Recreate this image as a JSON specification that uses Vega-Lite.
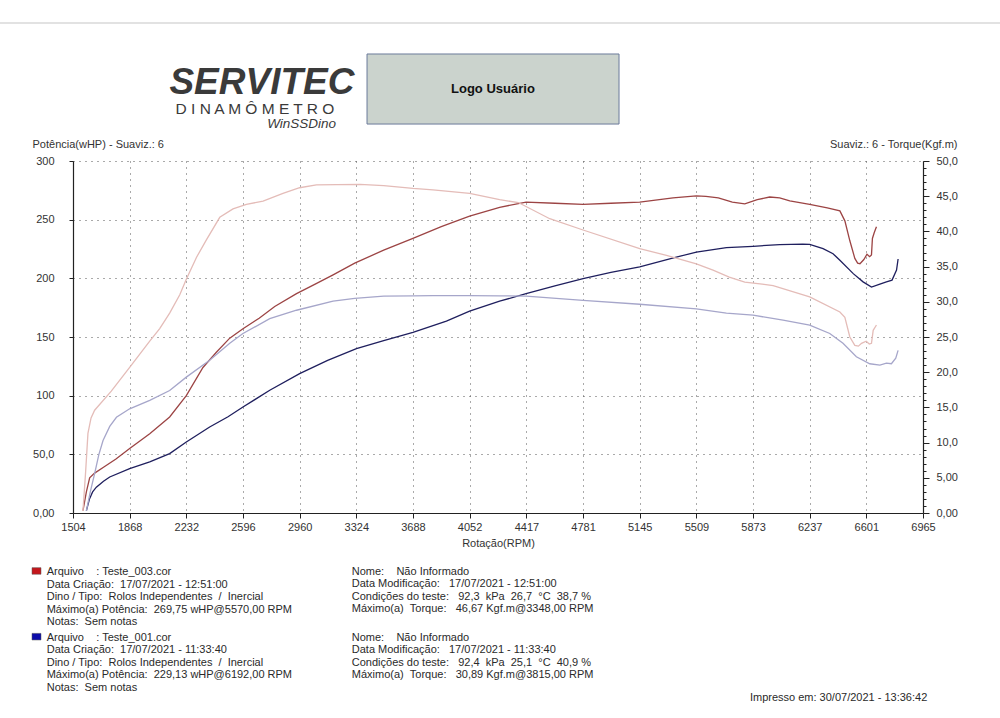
{
  "$schema": "https://vega.github.io/schema/vega-lite/v6.json",
  "width": 850,
  "height": 352,
  "autosize": {"type": "none"},
  "padding": {"left": 73, "top": 161, "right": 77, "bottom": 205},
  "background": "white",
  "config": {
    "view": {"stroke": null},
    "axis": {
      "labelFont": "Liberation Sans",
      "labelFontSize": 11,
      "labelColor": "#333333",
      "titleFont": "Liberation Sans",
      "titleFontSize": 11,
      "titleFontWeight": "normal",
      "titleColor": "#333333",
      "domainColor": "#222222",
      "domainWidth": 1.2,
      "tickColor": "#222222",
      "labelFlush": false,
      "labelOverlap": false
    },
    "text": {"font": "Liberation Sans"}
  },
  "datasets": {
    "power": [
      {"test": "Teste_003", "rpm": 1568, "power": 2},
      {"test": "Teste_003", "rpm": 1590, "power": 18},
      {"test": "Teste_003", "rpm": 1611, "power": 30},
      {"test": "Teste_003", "rpm": 1643, "power": 34},
      {"test": "Teste_003", "rpm": 1700, "power": 39},
      {"test": "Teste_003", "rpm": 1780, "power": 46},
      {"test": "Teste_003", "rpm": 1868, "power": 55},
      {"test": "Teste_003", "rpm": 1997, "power": 67.6},
      {"test": "Teste_003", "rpm": 2125, "power": 81.8},
      {"test": "Teste_003", "rpm": 2232, "power": 100},
      {"test": "Teste_003", "rpm": 2339, "power": 124},
      {"test": "Teste_003", "rpm": 2425, "power": 137},
      {"test": "Teste_003", "rpm": 2511, "power": 149},
      {"test": "Teste_003", "rpm": 2596, "power": 157},
      {"test": "Teste_003", "rpm": 2700, "power": 166},
      {"test": "Teste_003", "rpm": 2800, "power": 176},
      {"test": "Teste_003", "rpm": 2940, "power": 187},
      {"test": "Teste_003", "rpm": 3060, "power": 195},
      {"test": "Teste_003", "rpm": 3175, "power": 203},
      {"test": "Teste_003", "rpm": 3314, "power": 213},
      {"test": "Teste_003", "rpm": 3500, "power": 224},
      {"test": "Teste_003", "rpm": 3688, "power": 234},
      {"test": "Teste_003", "rpm": 3870, "power": 244},
      {"test": "Teste_003", "rpm": 4052, "power": 253},
      {"test": "Teste_003", "rpm": 4245, "power": 260.5},
      {"test": "Teste_003", "rpm": 4415, "power": 265},
      {"test": "Teste_003", "rpm": 4600, "power": 264},
      {"test": "Teste_003", "rpm": 4781, "power": 263},
      {"test": "Teste_003", "rpm": 4960, "power": 264},
      {"test": "Teste_003", "rpm": 5145, "power": 265},
      {"test": "Teste_003", "rpm": 5359, "power": 268.5},
      {"test": "Teste_003", "rpm": 5509, "power": 270.3},
      {"test": "Teste_003", "rpm": 5570, "power": 269.8},
      {"test": "Teste_003", "rpm": 5650, "power": 268.5},
      {"test": "Teste_003", "rpm": 5740, "power": 265},
      {"test": "Teste_003", "rpm": 5820, "power": 263.5},
      {"test": "Teste_003", "rpm": 5900, "power": 267},
      {"test": "Teste_003", "rpm": 5980, "power": 269.3},
      {"test": "Teste_003", "rpm": 6044, "power": 268.5},
      {"test": "Teste_003", "rpm": 6109, "power": 266},
      {"test": "Teste_003", "rpm": 6237, "power": 263},
      {"test": "Teste_003", "rpm": 6350, "power": 260},
      {"test": "Teste_003", "rpm": 6431, "power": 257.5},
      {"test": "Teste_003", "rpm": 6463, "power": 249},
      {"test": "Teste_003", "rpm": 6495, "power": 232},
      {"test": "Teste_003", "rpm": 6527, "power": 217},
      {"test": "Teste_003", "rpm": 6545, "power": 213},
      {"test": "Teste_003", "rpm": 6560, "power": 212.5},
      {"test": "Teste_003", "rpm": 6585, "power": 216},
      {"test": "Teste_003", "rpm": 6605, "power": 220.5},
      {"test": "Teste_003", "rpm": 6622, "power": 218.5},
      {"test": "Teste_003", "rpm": 6634, "power": 220},
      {"test": "Teste_003", "rpm": 6640, "power": 234},
      {"test": "Teste_003", "rpm": 6652, "power": 239},
      {"test": "Teste_003", "rpm": 6666, "power": 244},
      {"test": "Teste_001", "rpm": 1590, "power": 2},
      {"test": "Teste_001", "rpm": 1610, "power": 12},
      {"test": "Teste_001", "rpm": 1630, "power": 18},
      {"test": "Teste_001", "rpm": 1654, "power": 22},
      {"test": "Teste_001", "rpm": 1700, "power": 27},
      {"test": "Teste_001", "rpm": 1740, "power": 30.7},
      {"test": "Teste_001", "rpm": 1868, "power": 37.8},
      {"test": "Teste_001", "rpm": 1997, "power": 43.5},
      {"test": "Teste_001", "rpm": 2125, "power": 50.6},
      {"test": "Teste_001", "rpm": 2232, "power": 60.5},
      {"test": "Teste_001", "rpm": 2382, "power": 73.3},
      {"test": "Teste_001", "rpm": 2500, "power": 82},
      {"test": "Teste_001", "rpm": 2596, "power": 90.3},
      {"test": "Teste_001", "rpm": 2768, "power": 104.6},
      {"test": "Teste_001", "rpm": 2960, "power": 118.8},
      {"test": "Teste_001", "rpm": 3140, "power": 130},
      {"test": "Teste_001", "rpm": 3325, "power": 140},
      {"test": "Teste_001", "rpm": 3500, "power": 147},
      {"test": "Teste_001", "rpm": 3688, "power": 154},
      {"test": "Teste_001", "rpm": 3903, "power": 163.5},
      {"test": "Teste_001", "rpm": 4052, "power": 172},
      {"test": "Teste_001", "rpm": 4245, "power": 180.5},
      {"test": "Teste_001", "rpm": 4415, "power": 187},
      {"test": "Teste_001", "rpm": 4600, "power": 193.5},
      {"test": "Teste_001", "rpm": 4781, "power": 199.8},
      {"test": "Teste_001", "rpm": 4960, "power": 205},
      {"test": "Teste_001", "rpm": 5145, "power": 209.7},
      {"test": "Teste_001", "rpm": 5380, "power": 218},
      {"test": "Teste_001", "rpm": 5509, "power": 222.4},
      {"test": "Teste_001", "rpm": 5702, "power": 226.2},
      {"test": "Teste_001", "rpm": 5873, "power": 227.3},
      {"test": "Teste_001", "rpm": 6044, "power": 228.8},
      {"test": "Teste_001", "rpm": 6192, "power": 229.1},
      {"test": "Teste_001", "rpm": 6237, "power": 229},
      {"test": "Teste_001", "rpm": 6323, "power": 225.3},
      {"test": "Teste_001", "rpm": 6387, "power": 221},
      {"test": "Teste_001", "rpm": 6431, "power": 215.4},
      {"test": "Teste_001", "rpm": 6517, "power": 204},
      {"test": "Teste_001", "rpm": 6580, "power": 197},
      {"test": "Teste_001", "rpm": 6634, "power": 192.6},
      {"test": "Teste_001", "rpm": 6688, "power": 195},
      {"test": "Teste_001", "rpm": 6730, "power": 197},
      {"test": "Teste_001", "rpm": 6766, "power": 198.5},
      {"test": "Teste_001", "rpm": 6795, "power": 207},
      {"test": "Teste_001", "rpm": 6805, "power": 216.5}
    ],
    "torque": [
      {"test": "Teste_003", "rpm": 1568, "torque": 0.3},
      {"test": "Teste_003", "rpm": 1585, "torque": 5.8},
      {"test": "Teste_003", "rpm": 1600, "torque": 11.3},
      {"test": "Teste_003", "rpm": 1620, "torque": 13.5},
      {"test": "Teste_003", "rpm": 1643, "torque": 14.6},
      {"test": "Teste_003", "rpm": 1750, "torque": 17.3},
      {"test": "Teste_003", "rpm": 1868, "torque": 20.7},
      {"test": "Teste_003", "rpm": 1997, "torque": 24.4},
      {"test": "Teste_003", "rpm": 2061, "torque": 26.2},
      {"test": "Teste_003", "rpm": 2125, "torque": 28.4},
      {"test": "Teste_003", "rpm": 2190, "torque": 31.0},
      {"test": "Teste_003", "rpm": 2232, "torque": 33.2},
      {"test": "Teste_003", "rpm": 2297, "torque": 36.3},
      {"test": "Teste_003", "rpm": 2361, "torque": 38.8},
      {"test": "Teste_003", "rpm": 2447, "torque": 42.0},
      {"test": "Teste_003", "rpm": 2532, "torque": 43.2},
      {"test": "Teste_003", "rpm": 2618, "torque": 43.85},
      {"test": "Teste_003", "rpm": 2725, "torque": 44.3},
      {"test": "Teste_003", "rpm": 2853, "torque": 45.4},
      {"test": "Teste_003", "rpm": 2960, "torque": 46.2},
      {"test": "Teste_003", "rpm": 3068, "torque": 46.6},
      {"test": "Teste_003", "rpm": 3200, "torque": 46.65},
      {"test": "Teste_003", "rpm": 3348, "torque": 46.67},
      {"test": "Teste_003", "rpm": 3500, "torque": 46.5},
      {"test": "Teste_003", "rpm": 3688, "torque": 46.1},
      {"test": "Teste_003", "rpm": 3817, "torque": 45.9},
      {"test": "Teste_003", "rpm": 4052, "torque": 45.4},
      {"test": "Teste_003", "rpm": 4245, "torque": 44.5},
      {"test": "Teste_003", "rpm": 4365, "torque": 44.1},
      {"test": "Teste_003", "rpm": 4567, "torque": 41.8},
      {"test": "Teste_003", "rpm": 4781, "torque": 40.2},
      {"test": "Teste_003", "rpm": 5145, "torque": 37.55},
      {"test": "Teste_003", "rpm": 5317, "torque": 36.6},
      {"test": "Teste_003", "rpm": 5509, "torque": 35.4},
      {"test": "Teste_003", "rpm": 5616, "torque": 34.5},
      {"test": "Teste_003", "rpm": 5720, "torque": 33.5},
      {"test": "Teste_003", "rpm": 5820, "torque": 32.8},
      {"test": "Teste_003", "rpm": 5932, "torque": 32.5},
      {"test": "Teste_003", "rpm": 6002, "torque": 32.3},
      {"test": "Teste_003", "rpm": 6237, "torque": 30.7},
      {"test": "Teste_003", "rpm": 6431, "torque": 28.55},
      {"test": "Teste_003", "rpm": 6463, "torque": 27.8},
      {"test": "Teste_003", "rpm": 6495, "torque": 25.0},
      {"test": "Teste_003", "rpm": 6527, "torque": 23.8},
      {"test": "Teste_003", "rpm": 6550, "torque": 23.7},
      {"test": "Teste_003", "rpm": 6570, "torque": 24.1},
      {"test": "Teste_003", "rpm": 6600, "torque": 24.4},
      {"test": "Teste_003", "rpm": 6620, "torque": 24.0},
      {"test": "Teste_003", "rpm": 6634, "torque": 24.1},
      {"test": "Teste_003", "rpm": 6645, "torque": 25.95},
      {"test": "Teste_003", "rpm": 6666, "torque": 26.7},
      {"test": "Teste_001", "rpm": 1590, "torque": 0.3},
      {"test": "Teste_001", "rpm": 1615, "torque": 3},
      {"test": "Teste_001", "rpm": 1643, "torque": 5.6},
      {"test": "Teste_001", "rpm": 1670, "torque": 8.3},
      {"test": "Teste_001", "rpm": 1697, "torque": 10.3},
      {"test": "Teste_001", "rpm": 1740, "torque": 12.3},
      {"test": "Teste_001", "rpm": 1783, "torque": 13.6},
      {"test": "Teste_001", "rpm": 1868, "torque": 14.8},
      {"test": "Teste_001", "rpm": 1997, "torque": 16.0},
      {"test": "Teste_001", "rpm": 2125, "torque": 17.4},
      {"test": "Teste_001", "rpm": 2232, "torque": 19.3},
      {"test": "Teste_001", "rpm": 2382, "torque": 21.7},
      {"test": "Teste_001", "rpm": 2511, "torque": 24.1},
      {"test": "Teste_001", "rpm": 2596, "torque": 25.5},
      {"test": "Teste_001", "rpm": 2768, "torque": 27.6},
      {"test": "Teste_001", "rpm": 2940, "torque": 28.8},
      {"test": "Teste_001", "rpm": 3175, "torque": 30.1},
      {"test": "Teste_001", "rpm": 3314, "torque": 30.5},
      {"test": "Teste_001", "rpm": 3500, "torque": 30.8},
      {"test": "Teste_001", "rpm": 3688, "torque": 30.85},
      {"test": "Teste_001", "rpm": 3815, "torque": 30.89},
      {"test": "Teste_001", "rpm": 4052, "torque": 30.88},
      {"test": "Teste_001", "rpm": 4245, "torque": 30.85},
      {"test": "Teste_001", "rpm": 4415, "torque": 30.8},
      {"test": "Teste_001", "rpm": 4781, "torque": 30.2},
      {"test": "Teste_001", "rpm": 5145, "torque": 29.65},
      {"test": "Teste_001", "rpm": 5509, "torque": 29.0},
      {"test": "Teste_001", "rpm": 5702, "torque": 28.4},
      {"test": "Teste_001", "rpm": 5873, "torque": 28.1},
      {"test": "Teste_001", "rpm": 6066, "torque": 27.4},
      {"test": "Teste_001", "rpm": 6237, "torque": 26.7},
      {"test": "Teste_001", "rpm": 6366, "torque": 25.5},
      {"test": "Teste_001", "rpm": 6451, "torque": 24.1},
      {"test": "Teste_001", "rpm": 6537, "torque": 22.2},
      {"test": "Teste_001", "rpm": 6623, "torque": 21.2},
      {"test": "Teste_001", "rpm": 6688, "torque": 21.0},
      {"test": "Teste_001", "rpm": 6730, "torque": 21.3},
      {"test": "Teste_001", "rpm": 6762, "torque": 21.2},
      {"test": "Teste_001", "rpm": 6790, "torque": 22.0},
      {"test": "Teste_001", "rpm": 6805, "torque": 23.1}
    ]
  },
  "layer": [
    {
      "layer": [
        {
          "data": {"name": "power"},
          "mark": {"type": "line", "strokeWidth": 1.3},
          "encoding": {
            "x": {
              "field": "rpm",
              "type": "quantitative",
              "scale": {"domain": [1504, 6965], "nice": false, "zero": false},
              "axis": {
                "values": [1504, 1868, 2232, 2596, 2960, 3324, 3688, 4052, 4417, 4781, 5145, 5509, 5873, 6237, 6601, 6965],
                "format": "d",
                "grid": true,
                "gridDash": [1, 5],
                "gridColor": "#555555",
                "tickSize": 5,
                "labelPadding": 3,
                "title": "Rotação(RPM)",
                "titleX": 425,
                "titleY": 30,
                "titleAlign": "center",
                "titleBaseline": "middle"
              }
            },
            "y": {
              "field": "power",
              "type": "quantitative",
              "scale": {"domain": [0, 300], "nice": false},
              "axis": {
                "values": [0, 50, 100, 150, 200, 250, 300],
                "labelExpr": "datum.value == 0 ? '0,00' : datum.value == 50 ? '50,0' : datum.label",
                "grid": true,
                "gridDash": [1, 5],
                "gridColor": "#555555",
                "tickSize": 4,
                "labelPadding": 15,
                "title": "Potência(wHP) - Suaviz.: 6",
                "titleAngle": 0,
                "titleAlign": "left",
                "titleBaseline": "middle",
                "titleX": -41,
                "titleY": -17
              }
            },
            "color": {
              "field": "test",
              "type": "nominal",
              "scale": {"domain": ["Teste_003", "Teste_001"], "range": ["#9c4444", "#1f1f5e"]},
              "legend": null
            }
          }
        },
        {
          "data": {"values": [{}]},
          "mark": {"type": "rule", "stroke": "#e2e2e2", "strokeWidth": 2},
          "encoding": {
            "x": {"datum": 1035},
            "x2": {"datum": 7460},
            "y": {"datum": 417.6}
          }
        },
        {
          "data": {"values": [{}]},
          "mark": {"type": "rect", "fill": "#cbd3cd", "stroke": "#6b7b9b", "strokeWidth": 1},
          "encoding": {
            "x": {"datum": 3393},
            "x2": {"datum": 5012},
            "y": {"datum": 391.2},
            "y2": {"datum": 331.5}
          }
        },
        {
          "data": {"values": [{}]},
          "mark": {"type": "text", "text": "Logo Usuário", "fontSize": 13, "fontWeight": "bold", "align": "center", "baseline": "middle", "color": "#111111"},
          "encoding": {
            "x": {"datum": 4202},
            "y": {"datum": 361.4}
          }
        },
        {
          "data": {"values": [{}]},
          "mark": {"type": "text", "text": "SERVITEC", "fontSize": 37, "fontWeight": "bold", "fontStyle": "italic", "align": "center", "baseline": "alphabetic", "color": "#3a3a3a"},
          "encoding": {
            "x": {"datum": 2718},
            "y": {"datum": 357.5}
          }
        },
        {
          "data": {"values": [{}]},
          "mark": {"type": "text", "text": "D I N A M Ô M E T R O", "fontSize": 15.5, "align": "center", "baseline": "alphabetic", "color": "#3a3a3a"},
          "encoding": {
            "x": {"datum": 2673},
            "y": {"datum": 339.8}
          }
        },
        {
          "data": {"values": [{}]},
          "mark": {"type": "text", "text": "WinSSDino", "fontSize": 13.5, "fontStyle": "italic", "align": "right", "baseline": "alphabetic", "color": "#3a3a3a"},
          "encoding": {
            "x": {"datum": 3194},
            "y": {"datum": 328}
          }
        },
        {
          "data": {"values": [{}]},
          "mark": {"type": "rect", "fill": "#c4161c", "stroke": "#555555", "strokeWidth": 0.5},
          "encoding": {
            "x": {"datum": 1240.6},
            "x2": {"datum": 1298.4},
            "y": {"datum": -46.6},
            "y2": {"datum": -52.2}
          }
        },
        {
          "data": {"values": [{}]},
          "mark": {"type": "rect", "fill": "#0c0caa", "stroke": "#555555", "strokeWidth": 0.5},
          "encoding": {
            "x": {"datum": 1240.6},
            "x2": {"datum": 1298.4},
            "y": {"datum": -102.6},
            "y2": {"datum": -108.2}
          }
        },
        {
          "data": {"values": [{}]},
          "mark": {
            "type": "text",
            "text": [
              "Arquivo\u00a0\u00a0\u00a0\u00a0: Teste_003.cor",
              "Data Criação:\u00a0\u00a017/07/2021 - 12:51:00",
              "Dino / Tipo:\u00a0\u00a0Rolos Independentes\u00a0\u00a0/\u00a0\u00a0Inercial",
              "Máximo(a)\u00a0Potência:\u00a0\u00a0269,75 wHP@5570,00 RPM",
              "Notas:\u00a0\u00a0Sem notas"
            ],
            "fontSize": 11, "lineHeight": 12.6, "align": "left", "baseline": "alphabetic", "color": "#2a2a2a"
          },
          "encoding": {
            "x": {"datum": 1335},
            "y": {"datum": -52.8}
          }
        },
        {
          "data": {"values": [{}]},
          "mark": {
            "type": "text",
            "text": [
              "Arquivo\u00a0\u00a0\u00a0\u00a0: Teste_001.cor",
              "Data Criação:\u00a0\u00a017/07/2021 - 11:33:40",
              "Dino / Tipo:\u00a0\u00a0Rolos Independentes\u00a0\u00a0/\u00a0\u00a0Inercial",
              "Máximo(a)\u00a0Potência:\u00a0\u00a0229,13 wHP@6192,00 RPM",
              "Notas:\u00a0\u00a0Sem notas"
            ],
            "fontSize": 11, "lineHeight": 12.6, "align": "left", "baseline": "alphabetic", "color": "#2a2a2a"
          },
          "encoding": {
            "x": {"datum": 1335},
            "y": {"datum": -108.8}
          }
        },
        {
          "data": {"values": [{}]},
          "mark": {
            "type": "text",
            "text": [
              "Nome:\u00a0\u00a0\u00a0\u00a0Não Informado",
              "Data Modificação:\u00a0\u00a0\u00a017/07/2021 - 12:51:00",
              "Condições do teste:\u00a0\u00a0\u00a092,3\u00a0\u00a0kPa\u00a0\u00a026,7\u00a0\u00a0°C\u00a0\u00a038,7 %",
              "Máximo(a)\u00a0\u00a0Torque:\u00a0\u00a0\u00a046,67 Kgf.m@3348,00 RPM"
            ],
            "fontSize": 11, "lineHeight": 12.5, "align": "left", "baseline": "alphabetic", "color": "#2a2a2a"
          },
          "encoding": {
            "x": {"datum": 3295},
            "y": {"datum": -52.8}
          }
        },
        {
          "data": {"values": [{}]},
          "mark": {
            "type": "text",
            "text": [
              "Nome:\u00a0\u00a0\u00a0\u00a0Não Informado",
              "Data Modificação:\u00a0\u00a0\u00a017/07/2021 - 11:33:40",
              "Condições do teste:\u00a0\u00a0\u00a092,4\u00a0\u00a0kPa\u00a0\u00a025,1\u00a0\u00a0°C\u00a0\u00a040,9 %",
              "Máximo(a)\u00a0\u00a0Torque:\u00a0\u00a0\u00a030,89 Kgf.m@3815,00 RPM"
            ],
            "fontSize": 11, "lineHeight": 12.5, "align": "left", "baseline": "alphabetic", "color": "#2a2a2a"
          },
          "encoding": {
            "x": {"datum": 3295},
            "y": {"datum": -108.8}
          }
        },
        {
          "data": {"values": [{}]},
          "mark": {"type": "text", "text": "Impresso em: 30/07/2021 - 13:36:42", "fontSize": 11, "align": "left", "baseline": "alphabetic", "color": "#2a2a2a"},
          "encoding": {
            "x": {"datum": 5853},
            "y": {"datum": -160}
          }
        }
      ]
    },
    {
      "data": {"name": "torque"},
      "mark": {"type": "line", "strokeWidth": 1.3},
      "encoding": {
        "x": {"field": "rpm", "type": "quantitative"},
        "y": {
          "field": "torque",
          "type": "quantitative",
          "scale": {"domain": [0, 50], "nice": false},
          "axis": {
            "orient": "right",
            "values": [0, 5, 10, 15, 20, 25, 30, 35, 40, 45, 50],
            "labelExpr": "datum.value < 10 ? replace(format(datum.value, '.2f'), '.', ',') : replace(format(datum.value, '.1f'), '.', ',')",
            "grid": false,
            "tickSize": 6,
            "labelPadding": 7,
            "title": "Suaviz.: 6 - Torque(Kgf.m)",
            "titleAngle": 0,
            "titleAlign": "right",
            "titleBaseline": "middle",
            "titleX": 34,
            "titleY": -17
          }
        },
        "color": {
          "field": "test",
          "type": "nominal",
          "scale": {"domain": ["Teste_003", "Teste_001"], "range": ["#e4bcb8", "#a6a6ca"]},
          "legend": null
        }
      }
    },
    {
      "data": {"values": [{}]},
      "mark": {"type": "text", "text": ""},
      "encoding": {
        "y": {
          "datum": 0,
          "type": "quantitative",
          "scale": {"domain": [0, 50], "nice": false},
          "axis": {
            "orient": "right",
            "values": [1, 2, 3, 4, 6, 7, 8, 9, 11, 12, 13, 14, 16, 17, 18, 19, 21, 22, 23, 24, 26, 27, 28, 29, 31, 32, 33, 34, 36, 37, 38, 39, 41, 42, 43, 44, 46, 47, 48, 49],
            "labels": false,
            "domain": false,
            "grid": false,
            "tickSize": 3,
            "title": null
          }
        }
      }
    }
  ],
  "resolve": {"scale": {"y": "independent", "color": "independent"}}
}
